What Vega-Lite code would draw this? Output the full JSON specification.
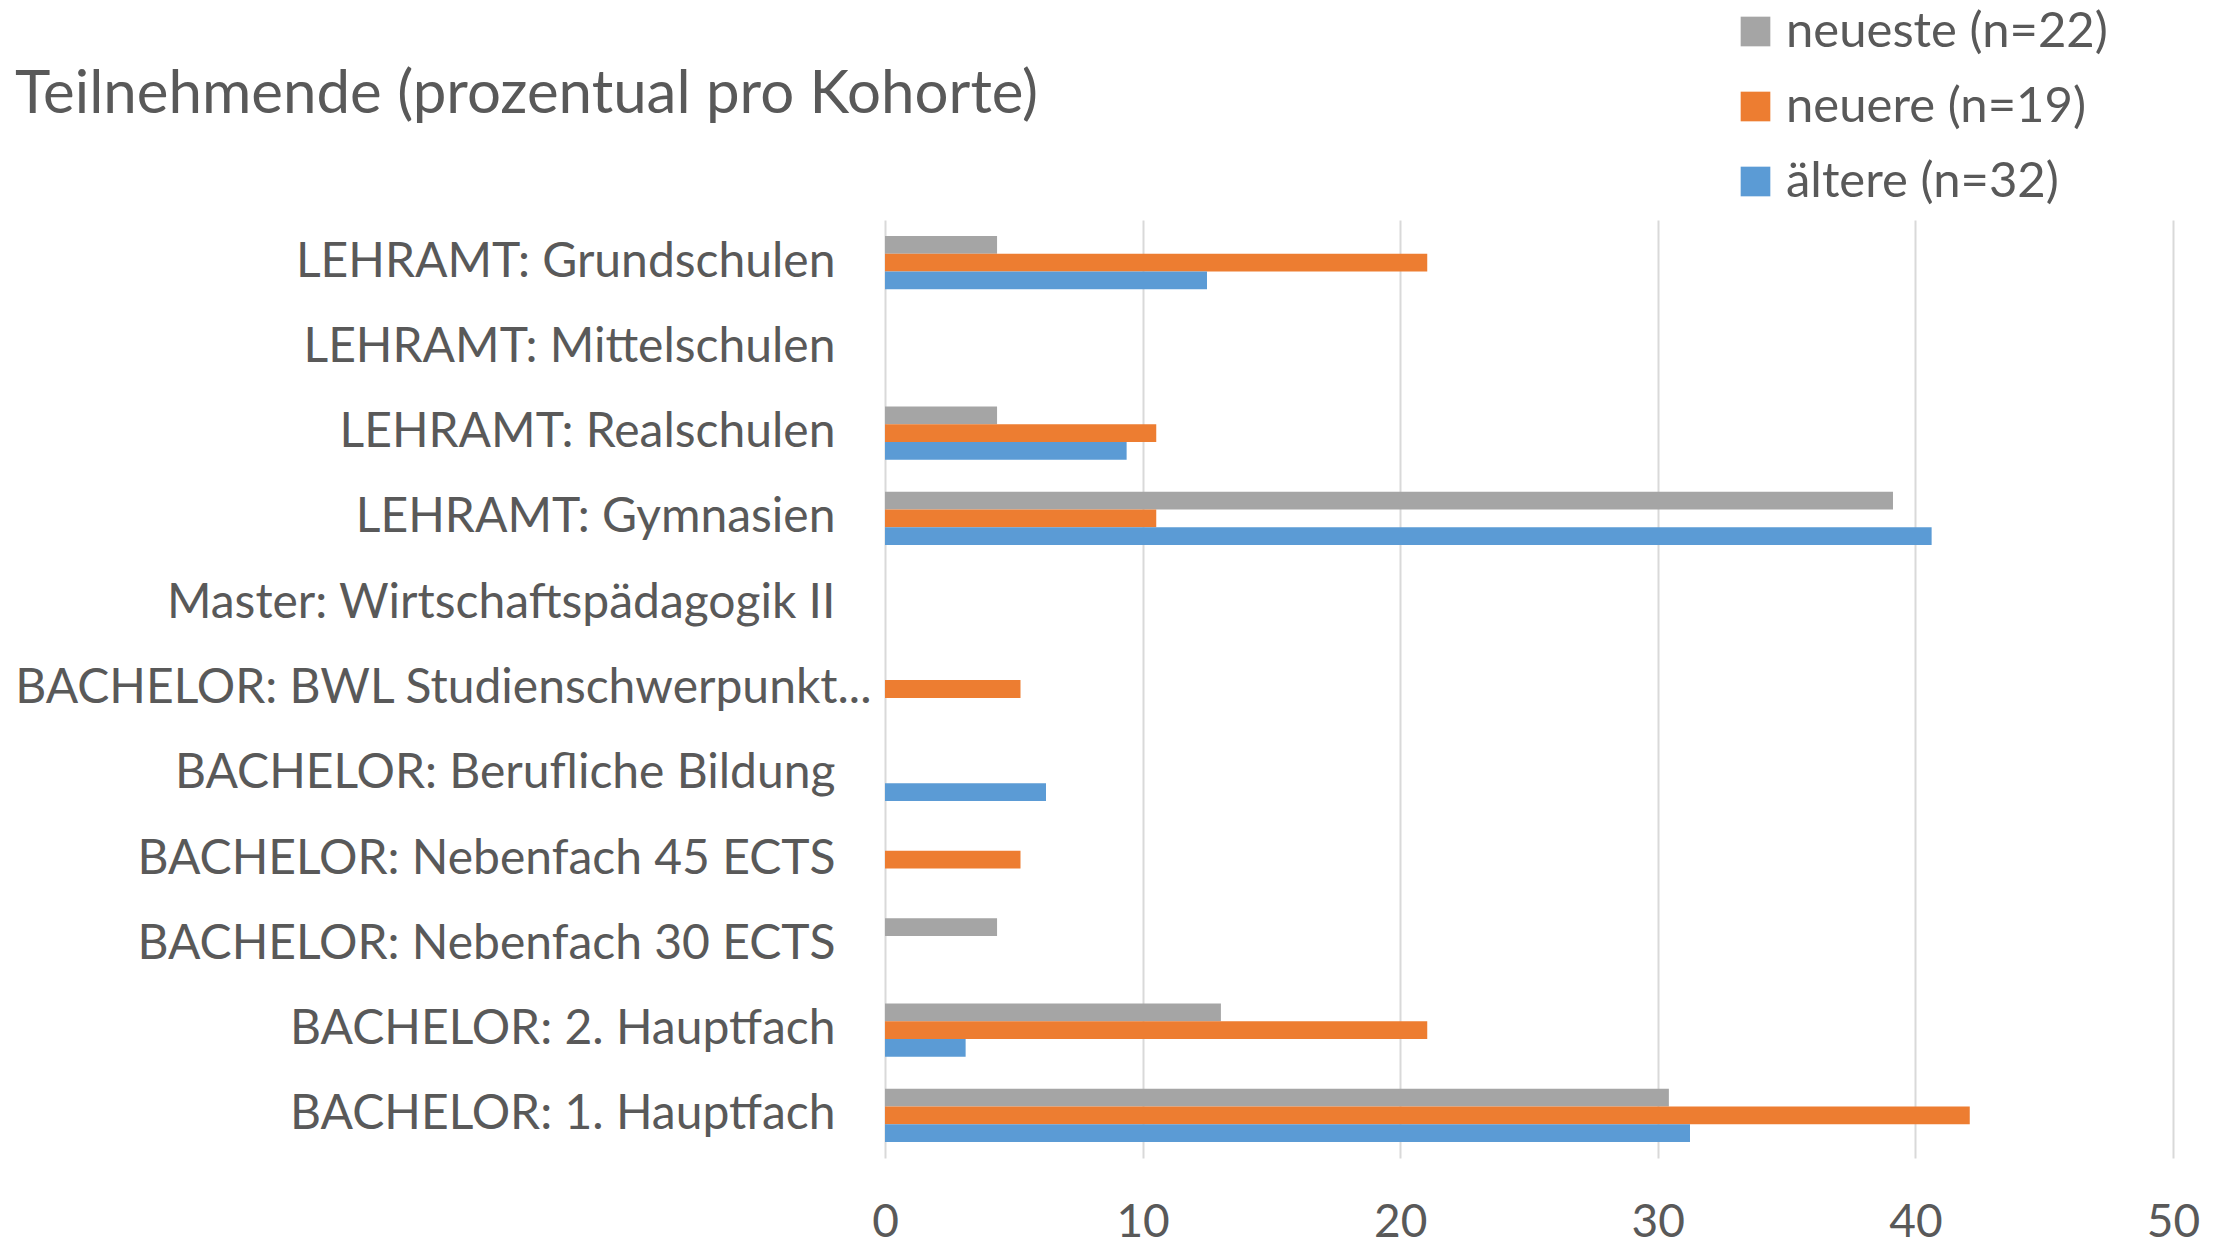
{
  "$schema": "https://vega.github.io/schema/vega-lite/v6.json",
  "autosize": {"type": "none"},
  "width": 1288,
  "height": 938,
  "padding": {"left": 885, "top": 220, "right": 55, "bottom": 89},
  "background": "white",
  "config": {"view": {"stroke": null}},
  "title": {
    "text": "Teilnehmende (prozentual pro Kohorte)",
    "anchor": "start",
    "frame": "group",
    "orient": "top",
    "baseline": "alphabetic",
    "offset": 0,
    "dy": 166,
    "dx": -870,
    "font": "Lato",
    "fontSize": 60,
    "fontWeight": "normal",
    "color": "#595959"
  },
  "data": {
    "values": [
      {"studiengang": "LEHRAMT: Grundschulen", "kohorte": "neueste (n=22)", "prozent": 4.35},
      {"studiengang": "LEHRAMT: Grundschulen", "kohorte": "neuere (n=19)", "prozent": 21.05},
      {"studiengang": "LEHRAMT: Grundschulen", "kohorte": "ältere (n=32)", "prozent": 12.5},
      {"studiengang": "LEHRAMT: Realschulen", "kohorte": "neueste (n=22)", "prozent": 4.35},
      {"studiengang": "LEHRAMT: Realschulen", "kohorte": "neuere (n=19)", "prozent": 10.53},
      {"studiengang": "LEHRAMT: Realschulen", "kohorte": "ältere (n=32)", "prozent": 9.38},
      {"studiengang": "LEHRAMT: Gymnasien", "kohorte": "neueste (n=22)", "prozent": 39.13},
      {"studiengang": "LEHRAMT: Gymnasien", "kohorte": "neuere (n=19)", "prozent": 10.53},
      {"studiengang": "LEHRAMT: Gymnasien", "kohorte": "ältere (n=32)", "prozent": 40.63},
      {"studiengang": "BACHELOR: BWL Studienschwerpunkt...", "kohorte": "neuere (n=19)", "prozent": 5.26},
      {"studiengang": "BACHELOR: Berufliche Bildung", "kohorte": "ältere (n=32)", "prozent": 6.25},
      {"studiengang": "BACHELOR: Nebenfach 45 ECTS", "kohorte": "neuere (n=19)", "prozent": 5.26},
      {"studiengang": "BACHELOR: Nebenfach 30 ECTS", "kohorte": "neueste (n=22)", "prozent": 4.35},
      {"studiengang": "BACHELOR: 2. Hauptfach", "kohorte": "neueste (n=22)", "prozent": 13.04},
      {"studiengang": "BACHELOR: 2. Hauptfach", "kohorte": "neuere (n=19)", "prozent": 21.05},
      {"studiengang": "BACHELOR: 2. Hauptfach", "kohorte": "ältere (n=32)", "prozent": 3.13},
      {"studiengang": "BACHELOR: 1. Hauptfach", "kohorte": "neueste (n=22)", "prozent": 30.43},
      {"studiengang": "BACHELOR: 1. Hauptfach", "kohorte": "neuere (n=19)", "prozent": 42.11},
      {"studiengang": "BACHELOR: 1. Hauptfach", "kohorte": "ältere (n=32)", "prozent": 31.25}
    ]
  },
  "mark": {"type": "bar", "cornerRadius": 0},
  "encoding": {
    "y": {
      "field": "studiengang",
      "type": "nominal",
      "scale": {
        "domain": [
          "LEHRAMT: Grundschulen",
          "LEHRAMT: Mittelschulen",
          "LEHRAMT: Realschulen",
          "LEHRAMT: Gymnasien",
          "Master: Wirtschaftspädagogik II",
          "BACHELOR: BWL Studienschwerpunkt...",
          "BACHELOR: Berufliche Bildung",
          "BACHELOR: Nebenfach 45 ECTS",
          "BACHELOR: Nebenfach 30 ECTS",
          "BACHELOR: 2. Hauptfach",
          "BACHELOR: 1. Hauptfach"
        ],
        "paddingInner": 0.375,
        "paddingOuter": 0.1875
      },
      "axis": {
        "title": null,
        "domain": false,
        "ticks": false,
        "grid": false,
        "labelFont": "Lato",
        "labelFontSize": 48,
        "labelColor": "#595959",
        "labelLimit": 0,
        "labelBaseline": "middle",
        "labelPadding": {"condition": {"test": "datum.value === 'BACHELOR: BWL Studienschwerpunkt...'", "value": 14}, "value": 50}
      }
    },
    "yOffset": {
      "field": "kohorte",
      "type": "nominal",
      "scale": {"domain": ["neueste (n=22)", "neuere (n=19)", "ältere (n=32)"], "paddingInner": 0, "paddingOuter": 0}
    },
    "x": {
      "field": "prozent",
      "type": "quantitative",
      "scale": {"domain": [0, 50], "nice": false, "zero": true},
      "axis": {
        "title": null,
        "values": [0, 10, 20, 30, 40, 50],
        "domain": false,
        "ticks": false,
        "grid": true,
        "gridColor": "#d9d9d9",
        "gridWidth": 2,
        "labelFont": "Lato",
        "labelFontSize": 46,
        "labelColor": "#595959",
        "labelPadding": 42,
        "labelFlush": false
      }
    },
    "color": {
      "field": "kohorte",
      "type": "nominal",
      "scale": {
        "domain": ["neueste (n=22)", "neuere (n=19)", "ältere (n=32)"],
        "range": ["#A5A5A5", "#ED7D31", "#5B9BD5"]
      },
      "legend": {
        "title": null,
        "orient": "none",
        "legendX": 846,
        "legendY": -213,
        "padding": 0,
        "symbolType": "square",
        "symbolSize": 880,
        "symbolStrokeWidth": 0,
        "symbolOpacity": 1,
        "labelFont": "Lato",
        "labelFontSize": 49,
        "labelColor": "#595959",
        "labelOffset": 6,
        "labelLimit": 0,
        "rowPadding": 25
      }
    }
  }
}
